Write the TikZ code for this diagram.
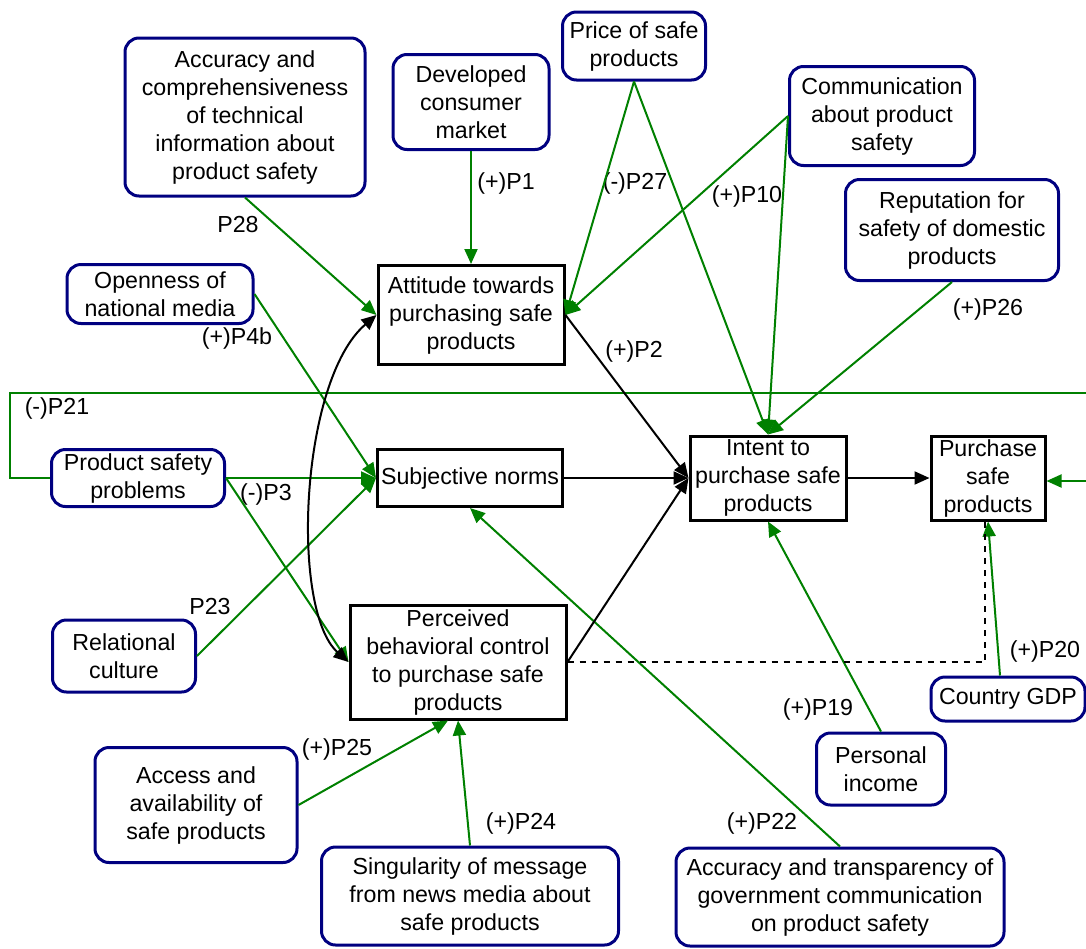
\documentclass[tikz,border=0pt]{standalone}
\usepackage{fontspec}
\setmainfont{Liberation Sans}
\usepackage{tikz}
\usetikzlibrary{arrows.meta}
\usetikzlibrary{calc}

\definecolor{boxblue}{RGB}{0,0,128}
\definecolor{linkgreen}{RGB}{0,128,0}

\tikzset{
  factor/.style={draw=boxblue, line width=1.5pt, rounded corners=7pt, fill=white,
    align=center, inner sep=1pt, font=\fontsize{11.6}{14}\selectfont},
  construct/.style={draw=black, line width=1.5pt, fill=white,
    align=center, inner sep=1pt, font=\fontsize{11.6}{14}\selectfont},
  lab/.style={inner sep=0pt, font=\fontsize{11.6}{14}\selectfont},
  glink/.style={draw=linkgreen, line width=1pt, -{Triangle[length=7.5pt,width=6.5pt]}},
  blink/.style={draw=black, line width=1pt, -{Triangle[length=7.5pt,width=6.5pt]}}
}

\begin{document}
\begin{tikzpicture}[x=0.5pt,y=-0.5pt]
      \useasboundingbox (0,0) rectangle (1086,948);

      \coordinate (loopL) at (10,393);
      \coordinate (loopR) at (1110,393);

      \node[construct, minimum width=93pt, minimum height=49.5pt] (att) at (471,315) {Attitude towards\\purchasing safe\\products};
      \node[construct, minimum width=92.5pt, minimum height=28.5pt] (subj) at (470,478) {Subjective norms};
      \node[construct, minimum width=108pt, minimum height=57pt] (pbc) at (458,662) {Perceived\\behavioral control\\to purchase safe\\products};
      \node[construct, minimum width=78pt, minimum height=42pt] (intent) at (768,478) {Intent to\\purchase safe\\products};
      \node[construct, minimum width=57pt, minimum height=42pt] (purch) at (988,478) {Purchase\\safe\\products};

      \node[factor, minimum width=120pt, minimum height=79pt] (acc) at (245,117) {Accuracy and\\comprehensiveness\\of technical\\information about\\product safety};
      \node[factor, minimum width=78pt, minimum height=47.5pt] (dev) at (471,102) {Developed\\consumer\\market};
      \node[factor, minimum width=71.5pt, minimum height=34pt] (price) at (634,46) {Price of safe\\products};
      \node[factor, minimum width=92.5pt, minimum height=49.5pt] (comm) at (882,116) {Communication\\about product\\safety};
      \node[factor, minimum width=106.5pt, minimum height=50.5pt] (rep) at (952,230) {Reputation for\\safety of domestic\\products};
      \node[factor, minimum width=93pt, minimum height=29.5pt] (open) at (160,294) {Openness of\\national media};
      \node[factor, minimum width=86.5pt, minimum height=28.5pt] (psp) at (138,478) {Product safety\\problems};
      \node[factor, minimum width=71.5pt, minimum height=36pt] (rel) at (124,656) {Relational\\culture};
      \node[factor, minimum width=101pt, minimum height=57.5pt] (access) at (196,805) {Access and\\availability of\\safe products};
      \node[factor, minimum width=148.5pt, minimum height=49pt] (sing) at (470,896) {Singularity of message\\from news media about\\safe products};
      \node[factor, minimum width=64.5pt, minimum height=36pt] (income) at (881,769) {Personal\\income};
      \node[factor, minimum width=164pt, minimum height=49pt] (govt) at (840,897) {Accuracy and transparency of\\government communication\\on product safety};
      \node[factor, minimum width=77pt, minimum height=22pt] (gdp) at (1008,699) {Country GDP};

      \node[lab] (lP28) at (238,225) {P28};
      \node[lab] (lP1) at (506,183) {(+)P1};
      \node[lab] (lP27) at (635,183) {(-)P27};
      \node[lab] (lP10) at (747,196) {(+)P10};
      \node[lab] (lP26) at (988,309) {(+)P26};
      \node[lab] (lP4b) at (237,338) {(+)P4b};
      \node[lab] (lP2) at (634,351) {(+)P2};
      \node[lab] (lP21) at (57,408) {(-)P21};
      \node[lab] (lP3) at (266,494) {(-)P3};
      \node[lab] (lP23) at (210,607) {P23};
      \node[lab] (lP20) at (1045,651) {(+)P20};
      \node[lab] (lP19) at (818,709) {(+)P19};
      \node[lab] (lP25) at (337,749) {(+)P25};
      \node[lab] (lP24) at (521,823) {(+)P24};
      \node[lab] (lP22) at (762,823) {(+)P22};

      \draw[glink] (psp.west) -| (loopL) -- (loopR) |- ($(purch.east)+(0,3)$);
      \draw[glink] (acc.south) -- (att.west);
      \draw[glink] (dev.south) -- (att.north);
      \draw[glink] (price.south) -- (att.east);
      \draw[glink] (price.south) -- (intent.north);
      \draw[glink] (comm.west) -- (att.east);
      \draw[glink] (comm.west) -- (intent.north);
      \draw[glink] (rep.south) -- (intent.north);
      \draw[glink] (open.east) -- (subj.west);
      \draw[glink] (psp.east) -- (subj.west);
      \draw[glink] (psp.east) -- (pbc.west);
      \draw[glink] (rel.east) -- (subj.west);
      \draw[glink] (access.east) -- ($(pbc.south)+(-10,0)$);
      \draw[glink] (sing.north) -- (pbc.south);
      \draw[glink] (govt.north) -- (subj.south);
      \draw[glink] (income.north) -- (intent.south);
      \draw[glink] ($(gdp.north)+(-8,0)$) -- (purch.south);

      \draw[black, line width=1.2pt, dashed] (pbc.east) -| ($(purch.south)+(-3,0)$);
      \draw[blink, {Triangle[length=7.5pt,width=6.5pt]}-{Triangle[length=7.5pt,width=6.5pt]}] (att.west) .. controls (300,380) and (290,610) .. (pbc.west);
      \draw[blink] (att.east) -- (intent.west);
      \draw[blink] (subj.east) -- (intent.west);
      \draw[blink] (pbc.east) -- (intent.west);
      \draw[blink] (intent.east) -- (purch.west);
    \end{tikzpicture}
\end{document}
